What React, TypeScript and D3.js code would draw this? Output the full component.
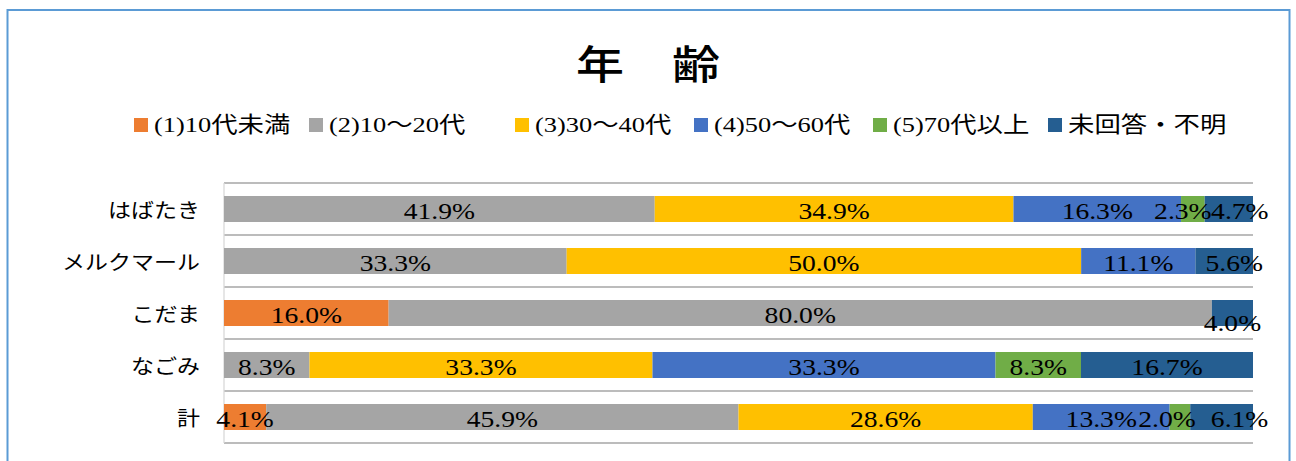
import React from "react";
import * as d3 from "d3";

const title = "年　齢";
const categories = ["はばたき", "メルクマール", "こだま", "なごみ", "計"];
const seriesNames = ["(1)10代未満", "(2)10～20代", "(3)30～40代", "(4)50～60代", "(5)70代以上", "未回答・不明"];
const under10 = [0, 0, 16.0, 0, 4.1];
const age10to20 = [41.9, 33.3, 80.0, 8.3, 45.9];
const age30to40 = [34.9, 50.0, 0, 33.3, 28.6];
const age50to60 = [16.3, 11.1, 0, 33.3, 13.3];
const age70plus = [2.3, 0, 0, 8.3, 2.0];
const unknown = [4.7, 5.6, 4.0, 16.7, 6.1];
const seriesValues = [under10, age10to20, age30to40, age50to60, age70plus, unknown];

const colors = ["#ED7D31", "#A5A5A5", "#FFC000", "#4472C4", "#70AD47", "#255E91"];

// layout constants
const W = 1296;
const H = 461;
const PLOT = { left: 224, right: 1253, top: 183, bottom: 443 };
const LEGEND_X = [134, 309, 515, 694, 873, 1048];
const LEGEND_Y = 118;
// label nudges (excel manual label positions) keyed "categoryIndex-seriesIndex"
const LABEL_NUDGE: Record<string, [number, number]> = {
  "0-4": [-10, 0],
  "0-5": [11, 0],
  "1-5": [10, 0],
  "2-5": [0, 8],
  "4-4": [-13, 0],
  "4-5": [18, 0],
};

const SERIF = "'Liberation Serif', 'Times New Roman', 'Noto Sans CJK JP', serif";
const CJK = "'Noto Sans CJK JP', 'Liberation Serif', sans-serif";

function SText(props: {
  x: number; y: number; sx: number; size: number; anchor?: string; family: string;
  baseline?: string; weight?: string | number; children: React.ReactNode;
}) {
  const { x, y, sx, size, anchor, family, baseline, weight, children } = props;
  return (
    <text
      transform={`translate(${x},${y}) scale(${sx},1)`}
      fontSize={size}
      fontFamily={family}
      textAnchor={anchor || "start"}
      dominantBaseline={baseline || "alphabetic"}
      fontWeight={weight || "normal"}
      fill="#000"
    >
      {children}
    </text>
  );
}

export default function App() {
  const rows = categories.map((c, i) => {
    const r: Record<string, number | string> = { category: c };
    seriesValues.forEach((s, k) => (r["s" + k] = s[i]));
    return r;
  });
  const keys = seriesNames.map((_, k) => "s" + k);
  const stack = d3.stack<any>().keys(keys).offset(d3.stackOffsetExpand);
  const stacked = stack(rows);

  const x = d3.scaleLinear().domain([0, 1]).range([PLOT.left, PLOT.right]);
  const y = d3
    .scaleBand<string>()
    .domain(categories)
    .range([PLOT.top, PLOT.bottom])
    .paddingInner(0.5)
    .paddingOuter(0.25);
  const step = y.step();
  const bw = y.bandwidth();

  const gridYs = categories.map((c) => (y(c) as number) - step * 0.25);
  gridYs.push(PLOT.bottom);

  return (
    <svg
      width={W}
      height={H}
      style={{ position: "fixed", left: 0, top: 0, display: "block", background: "#fff" }}
    >
      <rect x={0} y={0} width={W} height={H} fill="#fff" />
      <rect x={7.5} y={10} width={1282} height={470} fill="#fff" stroke="#5B9BD5" strokeWidth={2} />

      <SText x={648} y={62} sx={1.2} size={40} anchor="middle" family={CJK} baseline="central" weight={500}>
        {title}
      </SText>

      {seriesNames.map((name, k) => (
        <g key={name}>
          <rect x={LEGEND_X[k]} y={LEGEND_Y} width={14} height={14} fill={colors[k]} />
          <SText x={LEGEND_X[k] + 20} y={LEGEND_Y + 14} sx={1.2} size={22} family={SERIF}>
            {name}
          </SText>
        </g>
      ))}

      {gridYs.map((gy, i) => (
        <line key={i} x1={PLOT.left} x2={PLOT.right} y1={gy} y2={gy} stroke="#A6A6A6" strokeWidth={1.3} />
      ))}
      <line x1={PLOT.left} x2={PLOT.left} y1={PLOT.top} y2={PLOT.bottom} stroke="#D9D9D9" strokeWidth={1.3} />

      {stacked.map((layer, k) => (
        <g key={layer.key}>
          {layer.map((d, i) => {
            const w = x(d[1]) - x(d[0]);
            if (w <= 0) return null;
            return (
              <rect
                key={i}
                x={x(d[0])}
                y={y(categories[i]) as number}
                width={w}
                height={bw}
                fill={colors[k]}
              />
            );
          })}
        </g>
      ))}

      {stacked.map((layer, k) => (
        <g key={"lab" + layer.key}>
          {layer.map((d, i) => {
            const v = seriesValues[k][i];
            if (!v) return null;
            const nudge = LABEL_NUDGE[`${i}-${k}`] || [0, 0];
            const cx = (x(d[0]) + x(d[1])) / 2 + nudge[0];
            const cy = (y(categories[i]) as number) + bw / 2 + 10 + nudge[1];
            return (
              <SText key={i} x={cx} y={cy} sx={1.15} size={24} anchor="middle" family={SERIF}>
                {d3.format(".1f")(v) + "%"}
              </SText>
            );
          })}
        </g>
      ))}

      {categories.map((c) => (
        <SText
          key={c}
          x={200}
          y={(y(c) as number) + bw / 2}
          sx={1.15}
          size={20}
          anchor="end"
          family={CJK}
          baseline="central"
        >
          {c}
        </SText>
      ))}
    </svg>
  );
}
